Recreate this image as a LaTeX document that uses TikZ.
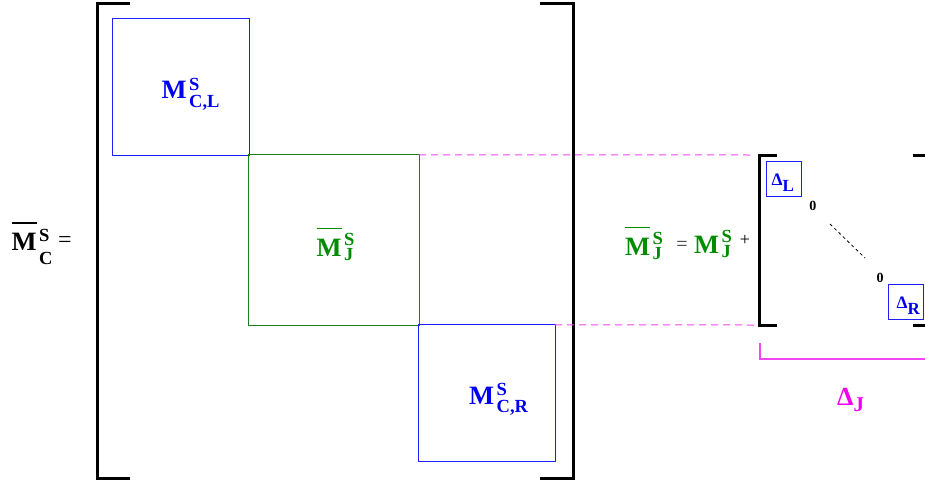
\documentclass[tikz,border=0pt]{standalone}
\usepackage{fontspec}
\setmainfont{Liberation Serif}
\definecolor{myblue}{RGB}{0,0,240}
\definecolor{boxblue}{RGB}{30,30,255}
\definecolor{mygreen}{RGB}{0,140,0}
\definecolor{boxgreen}{RGB}{20,130,20}
\definecolor{mymag}{RGB}{240,0,240}
\definecolor{linemag}{RGB}{242,70,242}
\newcommand{\scr}{\fontsize{18.5}{19}\selectfont\bfseries}
% #1 sup, #2 sub, #3 sup raise, #4 sub lower
\newcommand{\msym}[4]{\textbf{M}\kern2.5pt\rlap{\raisebox{#3}{\scr #1}}\raisebox{-#4}{\scr #2}}
\newcommand{\mbar}[4]{\setbox0\hbox{\textbf{M}}\rlap{\rule[27pt]{\wd0}{1.3pt}}\box0\kern2.5pt\rlap{\raisebox{#3}{\scr #1}}\raisebox{-#4}{\scr #2}}
\tikzset{
  bracket/.style={line width=3pt, line cap=butt, line join=miter},
  blockbox/.style={minimum width=136pt, minimum height=136pt, inner sep=0pt},
  greenbox/.style={minimum width=170pt, minimum height=170pt, inner sep=0pt},
  bluedraw/.style={draw=boxblue, line width=1pt},
  greendraw/.style={draw=boxgreen, line width=1pt},
  deltabox/.style={minimum width=34pt, minimum height=34pt, inner sep=0pt},
  lbl/.style={inner sep=0pt, anchor=base west, font=\fontsize{26.5}{28}\selectfont\bfseries},
  dlbl/.style={inner sep=0pt, anchor=base west, text=myblue, font=\fontsize{17.5}{18}\selectfont\bfseries},
  zero/.style={inner sep=0pt, font=\fontsize{14}{15}\selectfont\bfseries},
  magdash/.style={draw=linemag, line width=1pt, dash pattern=on 7pt off 5pt}
}
\begin{document}
\begin{tikzpicture}[x=1pt,y=-1pt]
\clip (0,0) rectangle (925,485);
% blocks
\node[blockbox] (bl) at (181,87) {};
\node[greenbox] (bj) at (334,240) {};
\node[blockbox] (br) at (487,393) {};
\draw[bluedraw] (bl.north west) rectangle (bl.south east);
\draw[greendraw] (bj.north west) rectangle (bj.south east);
\draw[bluedraw] (br.north west) rectangle (br.south east);
% big brackets
\draw[bracket] (130,3) -- (97,3) -- (97,478) -- (130,478);
\draw[bracket] (540,3) -- (573,3) -- (573,478) -- (540,478);
% labels in blocks
\node[lbl, text=myblue] (tl) at (161.5,98.5) {\msym{S}{C,L}{8.5pt}{8.5pt}};
\node[lbl, text=mygreen] (tj) at (316.5,256) {\mbar{S}{J}{11pt}{4pt}};
\node[lbl, text=myblue] (tr) at (469,404) {\msym{S}{C,R}{8.5pt}{8.5pt}};
% left label
\node[lbl] (lhs) at (11.5,250.5) {\mbar{S}{C}{9pt}{14pt}};
\node[inner sep=0pt, font=\fontsize{24}{26}\selectfont] (eq1) at (65,242.5) {=};
% dashed magenta lines
\coordinate (d1) at (755,155);
\coordinate (d2) at (755,325);
\draw[magdash] (bj.north east) -- (d1);
\draw[magdash] (br.north east) -- (d2);
% right formula
\node[lbl, text=mygreen] (rj1) at (625,255) {\mbar{S}{J}{11pt}{4pt}};
\node[inner sep=0pt, font=\fontsize{20}{22}\selectfont, text=black!80] (eq2) at (682,245.5) {=};
\node[lbl, text=mygreen] (rj2) at (694,253) {\msym{S}{J}{11pt}{4pt}};
\node[inner sep=0pt, font=\fontsize{18}{20}\selectfont] (plus) at (745,240.5) {+};
% small brackets
\draw[bracket] (776.5,155) -- (759.5,155) -- (759.5,325) -- (776.5,325);
\draw[bracket] (913,155) -- (930,155) -- (930,325) -- (913,325);
% delta boxes
\node[deltabox] (dl) at (784,179) {};
\node[deltabox] (dr) at (906,302) {};
\draw[bluedraw] (dl.north west) rectangle (dl.south east);
\draw[bluedraw] (dr.north west) rectangle (dr.south east);
\node[dlbl] (dlt) at (771.5,185) {Δ\raisebox{-6.5pt}{\fontsize{17}{18}\selectfont L}};
\node[dlbl] (drt) at (896.5,308) {Δ\raisebox{-6.5pt}{\fontsize{17}{18}\selectfont R}};
\node[zero] (z1) at (812.8,206) {0};
\node[zero] (z2) at (880,277.5) {0};
\coordinate (c1) at (830,224);
\coordinate (c2) at (865,258);
\draw[line width=0.8pt, dash pattern=on 3pt off 3pt] (c1) -- (c2);
% delta J brace
\coordinate (m1) at (760,343);
\coordinate (m2) at (760,359);
\coordinate (m3) at (930,359);
\draw[draw=linemag, line width=2pt] (m1) -- (m2) -- (m3);
\node[inner sep=0pt, anchor=base west, text=mymag, font=\fontsize{26}{28}\selectfont\bfseries] (dj) at (837,405) {Δ\raisebox{-6.5pt}{\fontsize{21}{22}\selectfont J}};
\end{tikzpicture}
\end{document}
